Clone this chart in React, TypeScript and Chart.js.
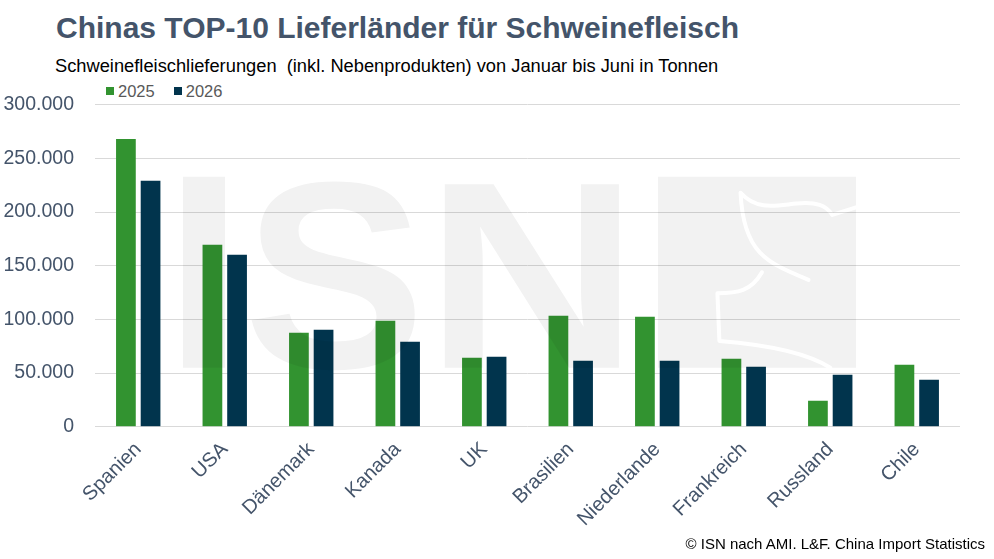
import React, { useEffect, useRef } from "react";
import { Chart, registerables } from "chart.js";

Chart.register(...registerables);

const categories = ["Spanien", "USA", "Dänemark", "Kanada", "UK", "Brasilien", "Niederlande", "Frankreich", "Russland", "Chile"];
const values2025 = [268000, 169600, 87600, 98800, 64300, 103400, 102500, 63400, 24200, 57800];
const values2026 = [229200, 160300, 90400, 79200, 65200, 61500, 61500, 55900, 48400, 43800];
const seriesLabels = ["2025", "2026"];
const seriesColors = ["#329330", "#01344d"];
const yMax = 300000;
const yStep = 50000;

const TEXT = "#44546a";
const FONT = "'Liberation Sans', Arial, sans-serif";

const fmt = (v: number) => String(Math.round(v)).replace(/\B(?=(\d{3})+(?!\d))/g, ".");

// semi-transparent "ISN" logo watermark drawn over the plot
const watermark = {
  id: "watermark",
  afterDatasetsDraw(chart: any) {
    const { ctx, chartArea } = chart;
    const dpr = chart.currentDevicePixelRatio || 1;
    const off = document.createElement("canvas");
    off.width = chart.canvas.width;
    off.height = chart.canvas.height;
    const o = off.getContext("2d") as CanvasRenderingContext2D;
    o.scale(dpr, dpr);
    const w = chartArea.right - chartArea.left;
    const h = chartArea.bottom - chartArea.top;
    const X = (f: number) => chartArea.left + f * w;
    const Y = (f: number) => chartArea.top + f * h;
    o.fillStyle = "#000";
    const top = Y(0.2236);
    const bottom = Y(0.8168);
    const capH = bottom - top;
    const fs = capH / 0.716;
    o.font = `bold ${fs}px ${FONT}`;
    o.textBaseline = "alphabetic";
    o.textAlign = "left";
    o.fillRect(X(0.1017), top, X(0.1503) - X(0.1017), capH);
    o.save();
    o.translate(X(0.172), bottom);
    o.scale(1.02, 1);
    o.fillText("S", 0, 0);
    o.restore();
    o.save();
    o.translate(X(0.3815), bottom);
    o.scale(1.11, 1);
    o.fillText("N", 0, 0);
    o.restore();
    const bx0 = X(0.6509);
    const bx1 = X(0.8798);
    o.fillRect(bx0, top, bx1 - bx0, capH);
    // pig outline cut out of the box
    o.globalCompositeOperation = "destination-out";
    o.strokeStyle = "#000";
    o.lineWidth = 4;
    o.lineCap = "round";
    o.lineJoin = "round";
    const P = (px: number, py: number) => [bx0 + px * (bx1 - bx0), top + py * capH];
    o.beginPath();
    let p = P(0.417, 0.084);
    o.moveTo(p[0], p[1]);
    let c1 = P(0.43, 0.4), c2 = P(0.55, 0.45), e = P(0.76, 0.54);
    o.bezierCurveTo(c1[0], c1[1], c2[0], c2[1], e[0], e[1]);
    o.moveTo(p[0], p[1]);
    c1 = P(0.5, 0.18); c2 = P(0.6, 0.15); e = P(0.7, 0.14);
    o.bezierCurveTo(c1[0], c1[1], c2[0], c2[1], e[0], e[1]);
    c1 = P(0.8, 0.13); c2 = P(0.85, 0.15); e = P(0.88, 0.2);
    o.bezierCurveTo(c1[0], c1[1], c2[0], c2[1], e[0], e[1]);
    e = P(1.0, 0.16);
    o.lineTo(e[0], e[1]);
    p = P(0.525, 0.5);
    o.moveTo(p[0], p[1]);
    c1 = P(0.47, 0.6); c2 = P(0.4, 0.61); e = P(0.3, 0.61);
    o.bezierCurveTo(c1[0], c1[1], c2[0], c2[1], e[0], e[1]);
    e = P(0.31, 0.86);
    o.lineTo(e[0], e[1]);
    c1 = P(0.55, 0.88); c2 = P(0.75, 0.92); e = P(0.87, 1.0);
    o.bezierCurveTo(c1[0], c1[1], c2[0], c2[1], e[0], e[1]);
    o.stroke();
    ctx.save();
    ctx.setTransform(1, 0, 0, 1, 0, 0);
    ctx.globalAlpha = 0.05;
    ctx.drawImage(off, 0, 0);
    ctx.restore();
  },
};

export default function App() {
  const canvasRef = useRef<HTMLCanvasElement | null>(null);

  useEffect(() => {
    document.body.style.margin = "0";
    const canvas = canvasRef.current;
    if (!canvas) return;
    const chart = new Chart(canvas, {
      type: "bar",
      data: {
        labels: categories,
        datasets: [
          { label: seriesLabels[0], data: values2025, backgroundColor: seriesColors[0] },
          { label: seriesLabels[1], data: values2026, backgroundColor: seriesColors[1] },
        ],
      },
      options: {
        responsive: false,
        animation: false,
        layout: { padding: { left: 3.5, right: 34, top: 3, bottom: 25 } },
        datasets: { bar: { categoryPercentage: 0.57, barPercentage: 0.8 } },
        plugins: {
          legend: { display: false },
          tooltip: { enabled: false },
        },
        scales: {
          x: {
            grid: { display: false },
            border: { display: false },
            ticks: {
              color: TEXT,
              font: { family: FONT, size: 20 },
              minRotation: 45,
              maxRotation: 45,
              padding: 3,
            },
          },
          y: {
            min: 0,
            max: yMax,
            grid: { color: "#d9d9d9", lineWidth: 1, drawTicks: false },
            border: { display: false },
            afterFit: (scale: any) => {
              scale.width = scale.width - scale.options.ticks.padding;
            },
            ticks: {
              stepSize: yStep,
              color: TEXT,
              padding: 21,
              font: { family: FONT, size: 19.5 },
              callback: (v: any) => fmt(Number(v)),
            },
          },
        },
      },
      plugins: [watermark],
    });
    return () => chart.destroy();
  }, []);

  const legendItem = (i: number) => (
    <span style={{ display: "inline-flex", alignItems: "center", marginRight: 19 }}>
      <span style={{ display: "inline-block", width: 8, height: 8, background: seriesColors[i], marginRight: 4 }} />
      <span>{seriesLabels[i]}</span>
    </span>
  );

  return (
    <div style={{ position: "relative", width: 994, height: 559, overflow: "hidden", background: "#fff", fontFamily: FONT }}>
      <div style={{ position: "absolute", left: 56, top: 10, fontSize: 30, fontWeight: "bold", color: "#44546a", whiteSpace: "pre", lineHeight: "36px" }}>
        Chinas TOP-10 Lieferländer für Schweinefleisch
      </div>
      <div style={{ position: "absolute", left: 55, top: 55, fontSize: 18.3, color: "#000", whiteSpace: "pre", lineHeight: "22px" }}>
        {"Schweinefleischlieferungen  (inkl. Nebenprodukten) von Januar bis Juni in Tonnen"}
      </div>
      <div style={{ position: "absolute", left: 106, top: 81, fontSize: 16.5, color: "#595959", lineHeight: "20px", display: "flex" }}>
        {legendItem(0)}
        {legendItem(1)}
      </div>
      <canvas ref={canvasRef} width={994} height={487} style={{ position: "absolute", left: 0, top: 72, width: 994, height: 487 }} />
      <div style={{ position: "absolute", right: 9, top: 535, fontSize: 15, color: "#000", whiteSpace: "pre", lineHeight: "18px" }}>
        © ISN nach AMI. L&amp;F. China Import Statistics
      </div>
    </div>
  );
}
